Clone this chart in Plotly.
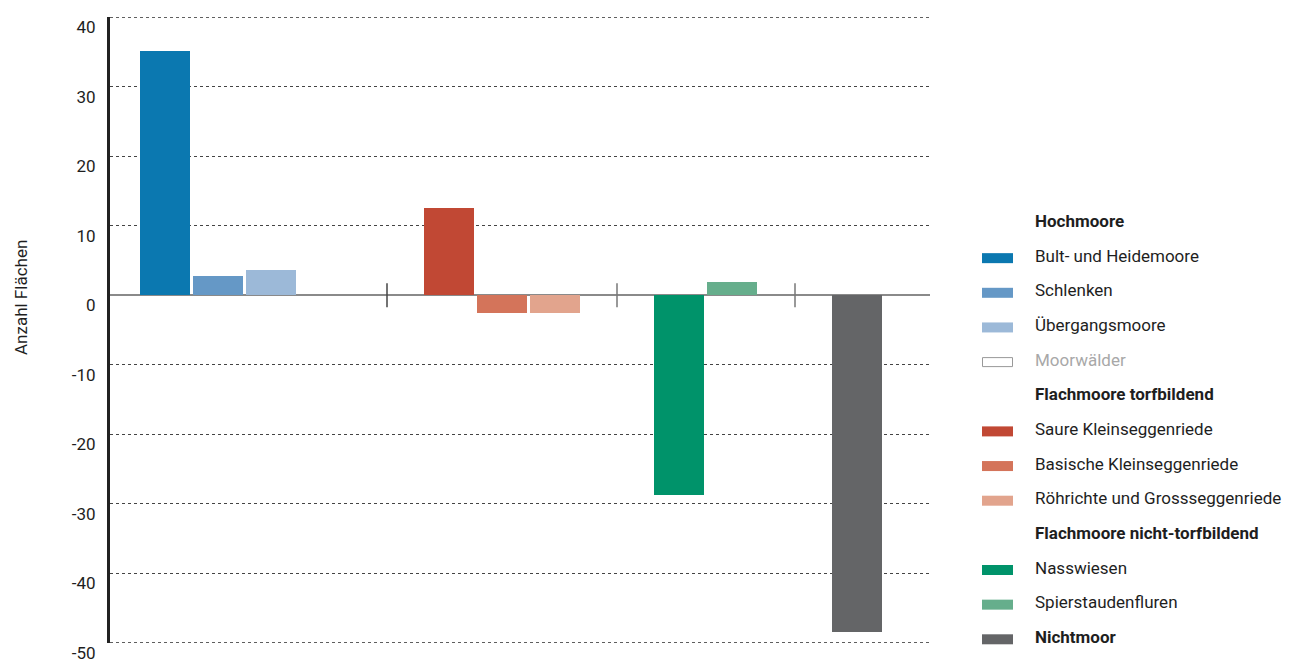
import plotly.graph_objects as go

# ---- data ----
categories = ["Bult- und Heidemoore", "Schlenken", "Übergangsmoore", "Moorwälder",
              "Saure Kleinseggenriede", "Basische Kleinseggenriede", "Röhrichte und Grossseggenriede",
              "Nasswiesen", "Spierstaudenfluren", "Nichtmoor"]
values = [35.2, 2.8, 3.6, 0, 12.6, -2.5, -2.5, -28.8, 1.9, -48.5]
group_of = [0, 0, 0, 0, 1, 1, 1, 2, 2, 3]
colors = ["#0b78b0", "#6598c6", "#9cb9d8", "#ffffff", "#c14834", "#d4745a", "#e2a48d",
          "#00936a", "#66ae8c", "#646567"]
group_titles = ["Hochmoore", "Flachmoore torfbildend", "Flachmoore nicht-torfbildend"]
y_ticks = [40, 30, 20, 10, 0, -10, -20, -30, -40, -50]
y_title = "Anzahl Flächen"

# ---- layout constants (page pixels; the page body has an 8px margin) ----
OFF = 8
W, H = 1294, 660
PL, PR, PT, PB = 110, 930, 17, 643          # plot area in page pixels
L, T = PL - OFF, PT - OFF
R = W - (PR - OFF)
B = H - (PB - OFF)
PW, PH = PR - PL, PB - PT
FONT = "Roboto, Liberation Sans, Arial, sans-serif"
group_centres = [134.5, 392, 595.5, 747]
separators = [277, 507, 685]
slot = 53
bar_w = 50

# compute x of each bar from group / slot
xs = []
for gi in range(len(group_centres)):
    idx = [i for i, g in enumerate(group_of) if g == gi]
    n = len(idx)
    for k, i in enumerate(idx):
        xs.append((i, group_centres[gi] + (k - (n - 1) / 2) * slot))
xs = [x for _, x in sorted(xs)]

fig = go.Figure()
for i, cat in enumerate(categories):
    fig.add_trace(go.Bar(x=[xs[i]], y=[values[i]], width=bar_w, name=cat,
                         marker=dict(color=colors[i], line=dict(width=0)),
                         showlegend=False))

shapes = []
# gridlines at the range ends (plotly skips grid lines at the plot edges)
for v in (max(y_ticks), min(y_ticks)):
    shapes.append(dict(type="line", xref="paper", yref="y", x0=0, x1=1, y0=v, y1=v,
                       layer="below", line=dict(color="#444", width=1, dash="dot")))
for s in separators:
    shapes.append(dict(type="line", xref="x", yref="y", ysizemode="pixel", yanchor=0,
                       x0=s, x1=s, y0=-12, y1=12,
                       line=dict(color="#444" if s == separators[0] else "#777", width=1.5)))

# manual legend, positions given in page pixels
def px(p):
    return (p - PL) / PW

def py(p):
    return (PB - p) / PH

entries = [
    (group_titles[0], None),
    (categories[0], 0), (categories[1], 1), (categories[2], 2), (categories[3], 3),
    (group_titles[1], None),
    (categories[4], 4), (categories[5], 5), (categories[6], 6),
    (group_titles[2], None),
    (categories[7], 7), (categories[8], 8),
    (categories[9], 9),
]
annotations = []
row0, step = 221, 34.65
for r, (label, ci) in enumerate(entries):
    yc = row0 + r * step
    bold = ci is None or ci == 9
    txtcol = "#1e1e1e"
    if ci == 3:
        txtcol = "#a8a8a8"
    annotations.append(dict(xref="paper", yref="paper", x=px(1033), y=py(yc),
                            xanchor="left", yanchor="middle", showarrow=False,
                            text=f"<b>{label}</b>" if bold else label,
                            font=dict(family=FONT, size=17, color=txtcol)))
    if ci is not None:
        if ci == 3:
            shapes.append(dict(type="rect", xref="paper", yref="paper",
                               x0=px(982.5), x1=px(1012.5), y0=py(yc + 7), y1=py(yc - 2),
                               fillcolor="#ffffff", line=dict(color="#999", width=1)))
        else:
            shapes.append(dict(type="rect", xref="paper", yref="paper",
                               x0=px(982), x1=px(1013), y0=py(yc + 7.5), y1=py(yc - 2.5),
                               fillcolor=colors[ci], line=dict(width=0)))

annotations.append(dict(xref="paper", yref="paper", x=px(21), y=py(298), textangle=-90,
                        showarrow=False, text=y_title, xanchor="center", yanchor="middle",
                        font=dict(family=FONT, size=17, color="#1e1e1e")))

fig.update_layout(
    width=W, height=H, margin=dict(l=L, r=R, t=T, b=B, autoexpand=False),
    paper_bgcolor="white", plot_bgcolor="white",
    bargap=0, barmode="overlay", showlegend=False,
    font=dict(family=FONT, size=17, color="#1e1e1e"),
    xaxis=dict(range=[0, PW], showgrid=False, showticklabels=False, zeroline=False,
               showline=False, fixedrange=True),
    yaxis=dict(range=[-50.05, 40.05], tickvals=y_ticks, ticktext=[str(v) for v in y_ticks],
               showgrid=True, gridcolor="#444", griddash="dot", gridwidth=1,
               zeroline=True, zerolinecolor="#8a8a8a", zerolinewidth=2,
               showline=True, linecolor="#222", linewidth=3,
               ticks="", ticklabelstandoff=8, ticklabelshift=10,
               tickfont=dict(family=FONT, size=17, color="#1e1e1e")),
    shapes=shapes, annotations=annotations,
)

fig.write_html("out.html")
